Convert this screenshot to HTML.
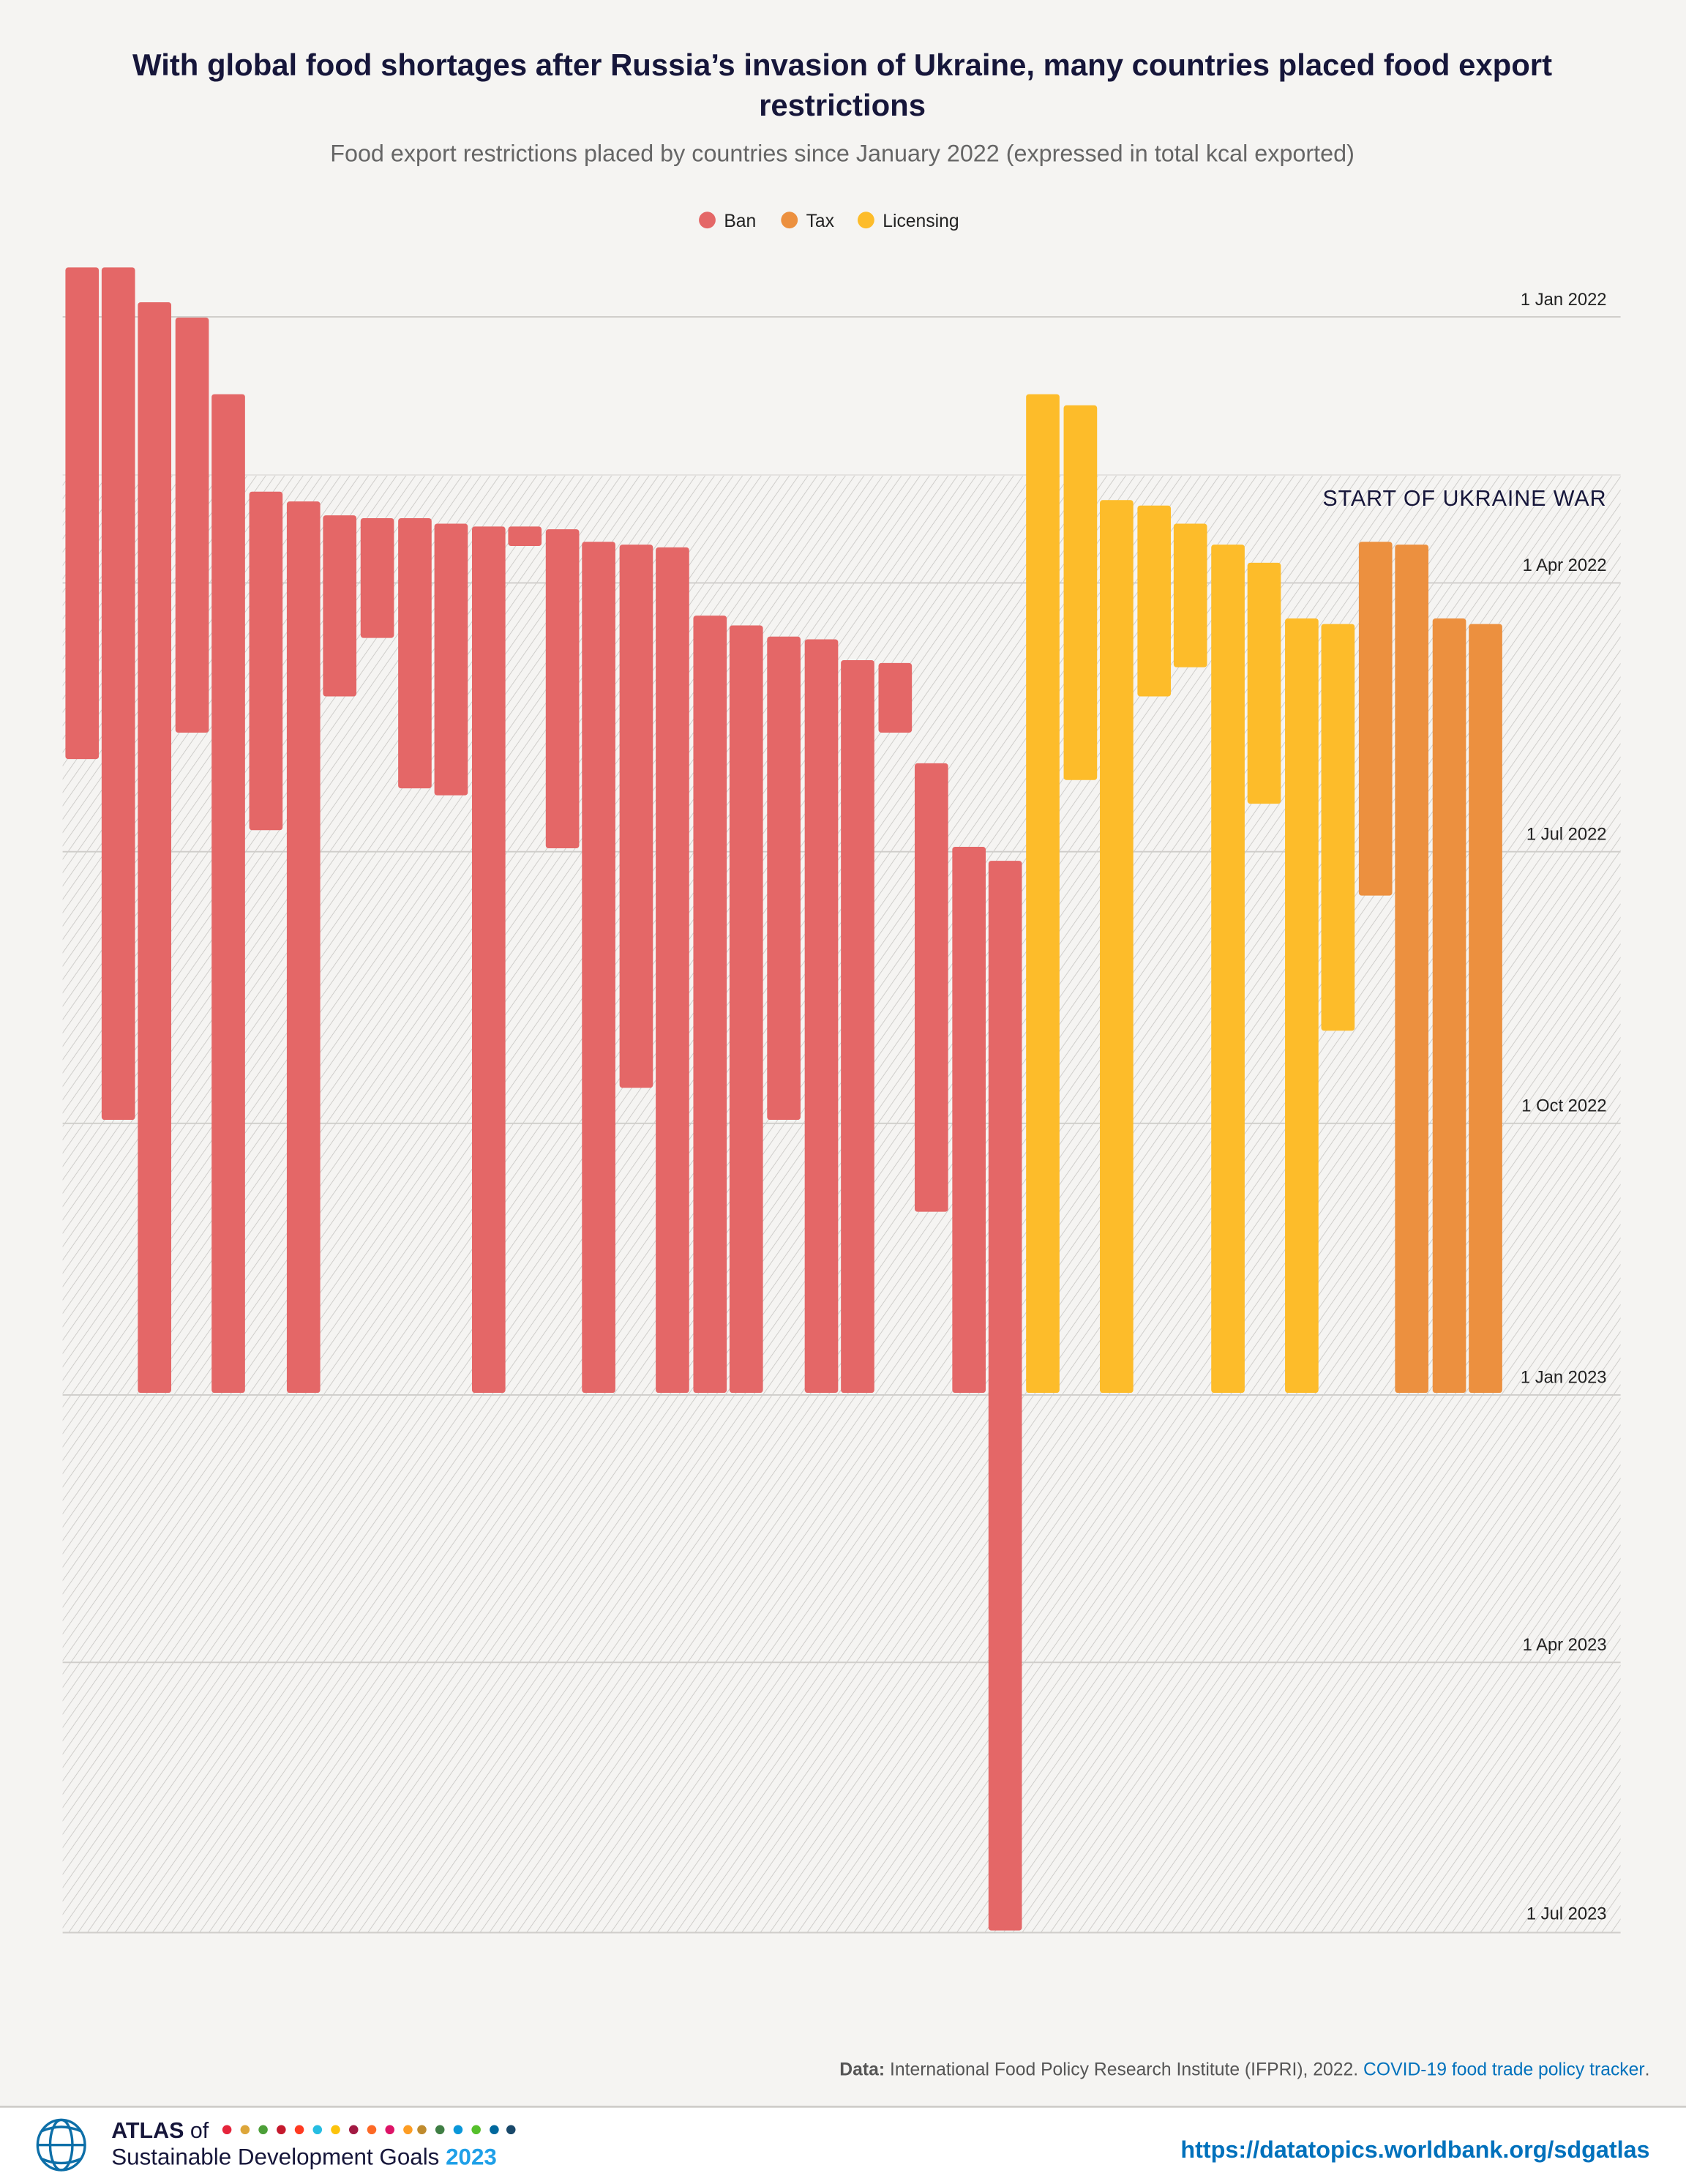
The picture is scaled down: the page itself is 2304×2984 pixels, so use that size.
<!DOCTYPE html>
<html><head><meta charset="utf-8"><style>
html,body{margin:0;padding:0;background:#f5f4f2}
svg{display:block}
text{font-family:"Liberation Sans",sans-serif}
</style></head><body>
<svg width="2304" height="2984" viewBox="0 0 1211 1568" preserveAspectRatio="none" xmlns="http://www.w3.org/2000/svg">
<defs>
<pattern id="h" width="5.5" height="5.5" patternUnits="userSpaceOnUse" patternTransform="rotate(35)">
<line x1="0" y1="0" x2="0" y2="5.5" stroke="#c9c7c4" stroke-width="0.9"/>
</pattern>
</defs>
<rect width="1211" height="1568" fill="#f5f4f2"/>
<text x="605" y="54" text-anchor="middle" font-size="22" font-weight="bold" fill="#16163a">With global food shortages after Russia’s invasion of Ukraine, many countries placed food export</text>
<text x="605" y="83" text-anchor="middle" font-size="22" font-weight="bold" fill="#16163a">restrictions</text>
<text x="605" y="116" text-anchor="middle" font-size="17" fill="#666">Food export restrictions placed by countries since January 2022 (expressed in total kcal exported)</text>
<circle cx="508" cy="158" r="6" fill="#e46767"/><text x="520" y="163" font-size="13" fill="#222">Ban</text>
<circle cx="567" cy="158" r="6" fill="#ec903f"/><text x="579" y="163" font-size="13" fill="#222">Tax</text>
<circle cx="622" cy="158" r="6" fill="#fdbc2a"/><text x="634" y="163" font-size="13" fill="#222">Licensing</text>
<rect x="45" y="341" width="1119" height="1046" fill="url(#h)"/>
<line x1="45" y1="341" x2="1164" y2="341" stroke="#e4e2df"/>
<g stroke="#cfcdca" stroke-width="1">
<line x1="45" y1="227.5" x2="1164" y2="227.5"/><line x1="45" y1="418.5" x2="1164" y2="418.5"/>
<line x1="45" y1="611.5" x2="1164" y2="611.5"/><line x1="45" y1="806.5" x2="1164" y2="806.5"/>
<line x1="45" y1="1001.5" x2="1164" y2="1001.5"/><line x1="45" y1="1193.5" x2="1164" y2="1193.5"/>
<line x1="45" y1="1387.5" x2="1164" y2="1387.5"/>
</g>
<g font-size="12.5" fill="#222" text-anchor="end">
<text x="1154" y="219">1 Jan 2022</text><text x="1154" y="410">1 Apr 2022</text>
<text x="1154" y="603">1 Jul 2022</text><text x="1154" y="798">1 Oct 2022</text>
<text x="1154" y="993">1 Jan 2023</text><text x="1154" y="1185">1 Apr 2023</text>
<text x="1154" y="1378">1 Jul 2023</text>
<text x="1154" y="363" font-size="16" fill="#16163a" letter-spacing="0.5">START OF UKRAINE WAR</text>
</g>
<g fill="#e46767">
<rect x="47" y="192" width="24" height="353" rx="2"/>
<rect x="73" y="192" width="24" height="612" rx="2"/>
<rect x="99" y="217" width="24" height="783" rx="2"/>
<rect x="126" y="228" width="24" height="298" rx="2"/>
<rect x="152" y="283" width="24" height="717" rx="2"/>
<rect x="179" y="353" width="24" height="243" rx="2"/>
<rect x="206" y="360" width="24" height="640" rx="2"/>
<rect x="232" y="370" width="24" height="130" rx="2"/>
<rect x="259" y="372" width="24" height="86" rx="2"/>
<rect x="286" y="372" width="24" height="194" rx="2"/>
<rect x="312" y="376" width="24" height="195" rx="2"/>
<rect x="339" y="378" width="24" height="622" rx="2"/>
<rect x="365" y="378" width="24" height="14" rx="2"/>
<rect x="392" y="380" width="24" height="229" rx="2"/>
<rect x="418" y="389" width="24" height="611" rx="2"/>
<rect x="445" y="391" width="24" height="390" rx="2"/>
<rect x="471" y="393" width="24" height="607" rx="2"/>
<rect x="498" y="442" width="24" height="558" rx="2"/>
<rect x="524" y="449" width="24" height="551" rx="2"/>
<rect x="551" y="457" width="24" height="347" rx="2"/>
<rect x="578" y="459" width="24" height="541" rx="2"/>
<rect x="604" y="474" width="24" height="526" rx="2"/>
<rect x="631" y="476" width="24" height="50" rx="2"/>
<rect x="657" y="548" width="24" height="322" rx="2"/>
<rect x="684" y="608" width="24" height="392" rx="2"/>
<rect x="710" y="618" width="24" height="768" rx="2"/>
</g>
<g fill="#fdbc2a">
<rect x="737" y="283" width="24" height="717" rx="2"/>
<rect x="764" y="291" width="24" height="269" rx="2"/>
<rect x="790" y="359" width="24" height="641" rx="2"/>
<rect x="817" y="363" width="24" height="137" rx="2"/>
<rect x="843" y="376" width="24" height="103" rx="2"/>
<rect x="870" y="391" width="24" height="609" rx="2"/>
<rect x="896" y="404" width="24" height="173" rx="2"/>
<rect x="923" y="444" width="24" height="556" rx="2"/>
<rect x="949" y="448" width="24" height="292" rx="2"/>
</g>
<g fill="#ec903f">
<rect x="976" y="389" width="24" height="254" rx="2"/>
<rect x="1002" y="391" width="24" height="609" rx="2"/>
<rect x="1029" y="444" width="24" height="556" rx="2"/>
<rect x="1055" y="448" width="24" height="552" rx="2"/>
</g>
<text x="1185" y="1490" text-anchor="end" font-size="13" fill="#555"><tspan font-weight="bold">Data:</tspan> International Food Policy Research Institute (IFPRI), 2022. <tspan fill="#0071bc">COVID-19 food trade policy tracker</tspan>.</text>
<rect x="0" y="1512" width="1211" height="56" fill="#fff"/>
<line x1="0" y1="1512.5" x2="1211" y2="1512.5" stroke="#cfcdca" stroke-width="1.5"/>
<g fill="none" stroke="#0d6fa8" stroke-width="1.8">
<ellipse cx="44" cy="1540" rx="17" ry="18"/><ellipse cx="44" cy="1540" rx="8" ry="18"/>
<line x1="27" y1="1540" x2="61" y2="1540"/><path d="M30 1530 Q44 1524 58 1530 M30 1550 Q44 1556 58 1550"/>
</g>
<text x="80" y="1535" font-size="16" font-weight="bold" fill="#16163a">ATLAS <tspan font-weight="normal">of</tspan></text>
<g>
<circle cx="163" cy="1529" r="3.3" fill="#e5243b"/><circle cx="176" cy="1529" r="3.3" fill="#dda63a"/>
<circle cx="189" cy="1529" r="3.3" fill="#4c9f38"/><circle cx="202" cy="1529" r="3.3" fill="#c5192d"/>
<circle cx="215" cy="1529" r="3.3" fill="#ff3a21"/><circle cx="228" cy="1529" r="3.3" fill="#26bde2"/>
<circle cx="241" cy="1529" r="3.3" fill="#fcc30b"/><circle cx="254" cy="1529" r="3.3" fill="#a21942"/>
<circle cx="267" cy="1529" r="3.3" fill="#fd6925"/><circle cx="280" cy="1529" r="3.3" fill="#dd1367"/>
<circle cx="293" cy="1529" r="3.3" fill="#fd9d24"/><circle cx="303" cy="1529" r="3.3" fill="#bf8b2e"/>
<circle cx="316" cy="1529" r="3.3" fill="#3f7e44"/><circle cx="329" cy="1529" r="3.3" fill="#0a97d9"/>
<circle cx="342" cy="1529" r="3.3" fill="#56c02b"/><circle cx="355" cy="1529" r="3.3" fill="#00689d"/>
<circle cx="367" cy="1529" r="3.3" fill="#19486a"/>
</g>
<text x="80" y="1554" font-size="16.5" fill="#16163a">Sustainable Development Goals <tspan fill="#1fa0e8" font-weight="bold">2023</tspan></text>
<text x="1185" y="1549" text-anchor="end" font-size="17" font-weight="bold" fill="#0071bc">https://datatopics.worldbank.org/sdgatlas</text>
</svg>
</body></html>
